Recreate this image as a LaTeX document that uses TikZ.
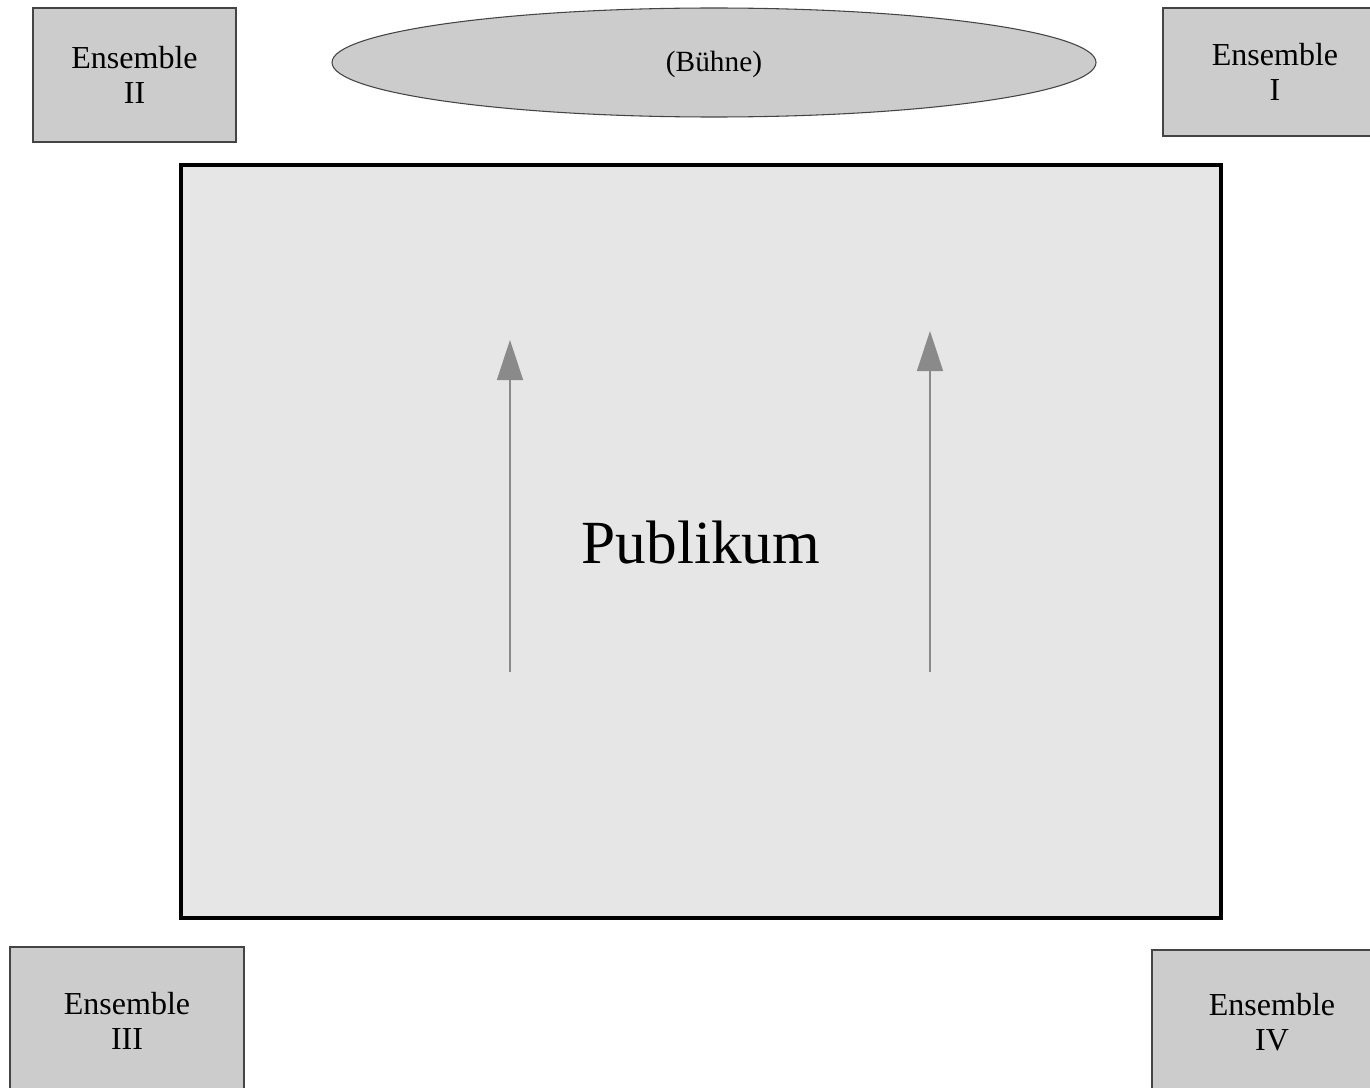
\documentclass[tikz,border=0pt]{standalone}
\usepackage{fontspec}
\setmainfont{Liberation Serif}
\usetikzlibrary{arrows.meta,shapes.geometric}
\definecolor{boxgray}{HTML}{CCCCCC}
\definecolor{hallgray}{HTML}{E6E6E6}
\definecolor{edgegray}{HTML}{444444}
\definecolor{arrowgray}{HTML}{8A8A8A}
\tikzset{
  ensemble/.style={draw=edgegray, line width=0.8pt, fill=boxgray, align=center,
    inner sep=0pt, font=\fontsize{24}{26.5}\selectfont},
  stage/.style={ellipse, draw=edgegray, line width=0.8pt, fill=boxgray, inner sep=0pt,
    font=\fontsize{22}{24}\selectfont},
  hall/.style={draw=black, line width=2.6pt, fill=hallgray, inner sep=0pt},
  flow/.style={draw=arrowgray, line width=1.1pt,
    -{Triangle[length=30pt,width=19.5pt]}, arrowgray},
}
\begin{document}
\begin{tikzpicture}[x=0.75pt, y=-0.75pt]
  \useasboundingbox (0,0) rectangle (1370,1088);
  \fill[white] (0,0) rectangle (1370,1088);
  \begin{scope}
    \clip (0,0) rectangle (1370,1088);
    % audience area
    \node[hall, minimum width=780pt, minimum height=564.75pt] (hall) at (701,541.5) {};
    \node[font=\fontsize{46}{50}\selectfont] (pub) at (701,543) {Publikum};
    % stage
    \node[stage, minimum width=573pt, minimum height=81.75pt] (stage) at (714,62.5) {};
    \node[font=\fontsize{22}{24}\selectfont] (stagelabel) at (714,64) {(Bühne)};
    % ensembles in the four corners
    \node[ensemble, minimum width=152.25pt, minimum height=100.5pt] (e2) at (134.5,75) {Ensemble\\II};
    \node[ensemble, minimum width=168pt, minimum height=96pt] (e1) at (1275,72) {Ensemble\\I};
    \node[ensemble, minimum width=175.5pt, minimum height=111pt] (e3) at (127,1021) {Ensemble\\III};
    \node[ensemble, minimum width=180pt, minimum height=108pt] (e4) at (1272,1022) {Ensemble\\IV};
    % direction of view
    \coordinate (l0) at (510,672);
    \coordinate (l1) at (510,340);
    \coordinate (r0) at (930,672);
    \coordinate (r1) at (930,331);
    \draw[flow] (l0) -- (l1);
    \draw[flow] (r0) -- (r1);
  \end{scope}
\end{tikzpicture}
\end{document}
